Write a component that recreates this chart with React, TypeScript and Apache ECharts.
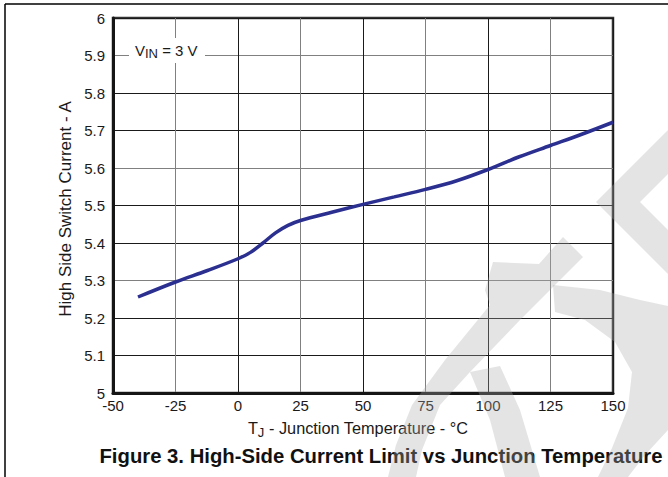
import React, { useEffect, useRef } from "react";
import * as echarts from "echarts";

const temperature: number[] = [-40, -25, -12.5, 0, 5, 10, 15, 20, 25, 37.5, 50, 62.5, 75, 87.5, 100, 112.5, 125, 137.5, 150];
const current: number[] = [5.256, 5.296, 5.326, 5.358, 5.375, 5.4, 5.427, 5.447, 5.46, 5.482, 5.503, 5.523, 5.543, 5.566, 5.596, 5.63, 5.66, 5.69, 5.722];

const xMin = -50;
const xMax = 150;
const xStep = 25;
const yMin = 5;
const yMax = 6;
const yStep = 0.1;

const yAxisTitle = "High Side Switch Current - A";
const xAxisTitleMain = "T";
const xAxisTitleSub = "J";
const xAxisTitleRest = " - Junction Temperature - °C";
const annotationMain = "V";
const annotationSub = "IN";
const annotationRest = " = 3 V";
const caption = "Figure 3. High-Side Current Limit vs Junction Temperature";

const FONT = "'Liberation Sans', Arial, Helvetica, sans-serif";

export default function App() {
  const ref = useRef<HTMLDivElement>(null);

  useEffect(() => {
    if (!ref.current) return;
    const chart = echarts.init(ref.current, undefined, { renderer: "svg" });
    const wm = "rgba(170,170,170,0.32)";
    const option: any = {
      animation: false,
      backgroundColor: "#ffffff",
      grid: {
        left: 113,
        right: 55,
        top: 18,
        bottom: 84,
        show: true,
        borderColor: "#333333",
        borderWidth: 2.5,
        backgroundColor: "transparent",
      },
      xAxis: {
        type: "value",
        min: xMin,
        max: xMax,
        interval: xStep,
        axisLine: { show: true, onZero: false, lineStyle: { color: "#151515", width: 3 } },
        axisTick: { show: false },
        axisLabel: {
          color: "#1a1a1a",
          fontSize: 15,
          fontFamily: FONT,
          margin: 5,
        },
        splitLine: { show: true, lineStyle: { color: ["#1a1a1a", "#808080"], width: 1 } },
      },
      yAxis: {
        type: "value",
        min: yMin,
        max: yMax,
        interval: yStep,
        axisLine: { show: true, onZero: false, lineStyle: { color: "#151515", width: 3 } },
        axisTick: { show: false },
        axisLabel: {
          color: "#1a1a1a",
          fontSize: 15,
          fontFamily: FONT,
          margin: 8,
          formatter: (v: number) => String(Math.round(v * 10) / 10),
        },
        splitLine: { show: true, lineStyle: { color: ["#808080", "#1a1a1a", "#1a1a1a"], width: 1 } },
      },
      series: [
        {
          type: "line",
          data: temperature.map((t, i) => [t, current[i]]),
          smooth: 0.35,
          showSymbol: false,
          lineStyle: { color: "#2b2f8f", width: 3.5 },
          z: 5,
        },
      ],
      graphic: [
        { type: "line", shape: { x1: 5, y1: 4, x2: 668, y2: 4 }, style: { stroke: "#000", lineWidth: 1.5 } },
        { type: "line", shape: { x1: 5, y1: 4, x2: 5, y2: 477 }, style: { stroke: "#000", lineWidth: 1.5 } },
        {
          type: "rect",
          shape: { x: 129, y: 38, width: 76, height: 25 },
          style: { fill: "#ffffff" },
          z: 10,
        },
        {
          type: "text",
          x: 135,
          y: 50,
          z: 11,
          style: {
            text: `{m|${annotationMain}}{s|${annotationSub}}{m|${annotationRest}}`,
            verticalAlign: "middle",
            align: "left",
            rich: {
              m: { fontSize: 15, fontFamily: FONT, fill: "#1a1a1a" },
              s: { fontSize: 13, fontFamily: FONT, fill: "#1a1a1a", padding: [7, 0, 0, 0] },
            },
          },
        },
        {
          type: "text",
          x: 65,
          y: 209,
          rotation: Math.PI / 2,
          style: {
            text: yAxisTitle,
            fontSize: 17,
            fontFamily: FONT,
            fill: "#1a1a1a",
            align: "center",
            verticalAlign: "middle",
          },
        },
        {
          type: "text",
          x: 358,
          y: 428,
          style: {
            text: `{m|${xAxisTitleMain}}{s|${xAxisTitleSub}}{m|${xAxisTitleRest}}`,
            align: "center",
            verticalAlign: "middle",
            rich: {
              m: { fontSize: 16.3, fontFamily: FONT, fill: "#1a1a1a" },
              s: { fontSize: 13, fontFamily: FONT, fill: "#1a1a1a", padding: [8, 0, 0, 0] },
            },
          },
        },
        {
          type: "text",
          x: 381,
          y: 456,
          style: {
            text: caption,
            fontSize: 20.3,
            fontWeight: "bold",
            fontFamily: FONT,
            fill: "#111",
            align: "center",
            verticalAlign: "middle",
          },
        },
        {
          type: "polygon",
          z: 100,
          shape: { points: [[596, 202], [668, 130], [668, 174], [640, 202], [668, 230], [668, 274]] },
          style: { fill: wm },
        },
        {
          type: "polygon",
          z: 100,
          shape: {
            points: [
              [563, 237], [583, 257], [520, 320], [470, 372], [440, 405], [422, 450], [416, 477],
              [388, 477], [396, 445], [412, 405], [445, 360], [490, 305], [485, 290], [493, 262], [539, 264],
            ],
          },
          style: { fill: wm },
        },
        {
          type: "polygon",
          z: 100,
          shape: { points: [[470, 372], [500, 366], [520, 410], [540, 477], [505, 477], [490, 420]] },
          style: { fill: wm },
        },
        {
          type: "polygon",
          z: 100,
          shape: {
            points: [
              [553, 285], [600, 290], [640, 300], [668, 306], [668, 430], [645, 455], [628, 477],
              [598, 477], [612, 448], [628, 408], [632, 372], [615, 342], [585, 320], [555, 312],
            ],
          },
          style: { fill: wm },
        },
      ],
    };
    chart.setOption(option);
    return () => chart.dispose();
  }, []);

  return (
    <div
      ref={ref}
      style={{ position: "fixed", left: 0, top: 0, width: 668, height: 477, background: "#fff" }}
    />
  );
}
